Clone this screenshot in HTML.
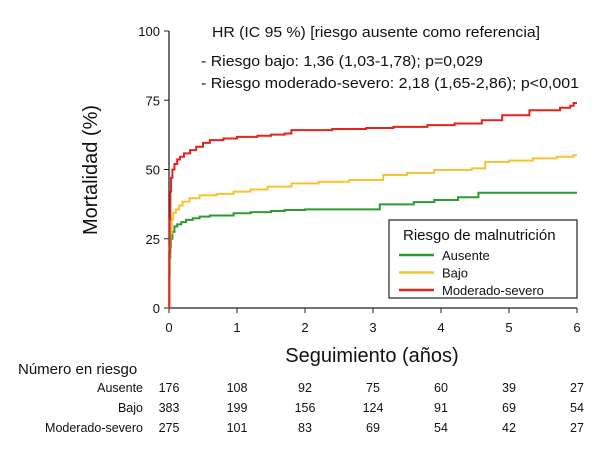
<!DOCTYPE html>
<html><head><meta charset="utf-8"><style>
body{margin:0;background:#fff;}
svg{display:block;font-family:"Liberation Sans",sans-serif;}
</style></head><body>
<svg width="613" height="451" id="chart">
<g id="axes"></g><g id="series"></g><g id="ann"></g>
</svg>
<script>
const xTicks=[0,1,2,3,4,5,6];
const yTicks=[0,25,50,75,100];
const groups=["Ausente","Bajo","Moderado-severo"];
const colors=["#2e9a34","#f4c431","#e4231c"];
const ausT=[0,0.005,0.01,0.02,0.03,0.05,0.08,0.12,0.18,0.25,0.35,0.45,0.6,0.95,1.2,1.5,1.7,2.0,3.1,3.6,3.9,4.25,4.55,6];
const ausV=[0,12,18,22,25,27.5,29.4,30.2,31,31.8,32.4,33,33.4,34.2,34.6,35,35.4,35.6,37.4,38.2,39,40,41.6,41.6];
const bajT=[0,0.005,0.01,0.02,0.04,0.06,0.1,0.15,0.2,0.3,0.45,0.7,0.95,1.2,1.45,1.8,2.2,2.65,3.15,3.5,3.9,4.45,4.65,5.0,5.35,5.7,5.95,6];
const bajV=[0,15,22,27,32,34.4,35.6,37,38.4,39.6,40.7,41.2,42,42.8,43.8,45,45.6,46.2,48,48.8,49.8,50.4,52.7,53.2,54,54.6,55.2,55.2];
const modT=[0,0.005,0.01,0.02,0.03,0.05,0.08,0.12,0.16,0.22,0.31,0.4,0.5,0.6,0.8,1.0,1.3,1.5,1.7,1.8,2.4,2.9,3.3,3.8,4.2,4.6,4.9,5.3,5.75,5.9,5.95,6];
const modV=[0,20,32,42,47,50,52,53.6,54.6,55.8,57,58.2,59.6,60.6,61.2,61.8,62.2,62.6,63,64.2,64.6,65,65.4,66,66.6,67.8,69.6,71.4,72.3,73,74,74];
const atRisk=[[176,108,92,75,60,39,27],[383,199,156,124,91,69,54],[275,101,83,69,54,42,27]];
const NS="http://www.w3.org/2000/svg";
const X=t=>169+t*(577-169)/6, Y=v=>308-v*(308-31)/100;
function mk(tag,attrs,parent,text){const e=document.createElementNS(NS,tag);for(const k in attrs)e.setAttribute(k,attrs[k]);if(text!==undefined)e.textContent=text;parent.appendChild(e);return e;}
const ax=document.getElementById('axes');
let a=mk('line',{x1:169,y1:31,x2:169,y2:308,stroke:'#222','stroke-width':1.3},ax);

a=mk('line',{x1:169,y1:308,x2:577,y2:308,stroke:'#222','stroke-width':1.3},ax);

yTicks.forEach(v=>{mk('line',{x1:164,y1:Y(v),x2:169,y2:Y(v),stroke:'#222'},ax);
 const t=mk('text',{x:160,y:Y(v)+5,'text-anchor':'end','font-size':13,fill:'#111'},ax,v);
 });
xTicks.forEach(v=>{mk('line',{x1:X(v),y1:308,x2:X(v),y2:313,stroke:'#222'},ax);
 const t=mk('text',{x:X(v),y:332,'text-anchor':'middle','font-size':13,fill:'#111'},ax,v);
 });
let tt=mk('text',{x:372,y:362,'text-anchor':'middle','font-size':20,fill:'#111'},ax,'Seguimiento (años)');

tt=mk('text',{x:97,y:170,'text-anchor':'middle','font-size':20,fill:'#111',transform:'rotate(-90 97 170)'},ax,'Mortalidad (%)');

const sg=document.getElementById('series');
[[ausT,ausV],[bajT,bajV],[modT,modV]].forEach((s,i)=>{let d='M'+X(s[0][0])+' '+Y(s[1][0]);
 for(let k=1;k<s[0].length;k++){d+=' H'+X(s[0][k])+' V'+Y(s[1][k]);}
 const p=mk('path',{d:d,fill:'none',stroke:colors[i],'stroke-width':2},sg);
 });
const an=document.getElementById('ann');
[['HR (IC 95 %) [riesgo ausente como referencia]',212,37,328],['- Riesgo bajo: 1,36 (1,03-1,78); p=0,029',201,66,282],['- Riesgo moderado-severo: 2,18 (1,65-2,86); p<0,001',201,88,378]].forEach((r,i)=>{
 const t=mk('text',{x:r[1],y:r[2],'font-size':15,fill:'#111',textLength:r[3],lengthAdjust:'spacingAndGlyphs'},an,r[0]);
 });
const lg=mk('g',{},an);
mk('rect',{x:389,y:220,width:188,height:78,fill:'#fff',stroke:'#333','stroke-width':1.3},lg);
mk('text',{x:403,y:240,'font-size':15,fill:'#111'},lg,'Riesgo de malnutrición');
groups.forEach((g,i)=>{const e=mk('g',{},lg);
 const y=255+i*17.5;mk('line',{x1:399,y1:y,x2:434,y2:y,stroke:colors[i],'stroke-width':2.5},e);
 mk('text',{x:442,y:y+5,'font-size':13,fill:'#111'},e,g);});
tt=mk('text',{x:18,y:374,'font-size':15,fill:'#111'},an,'Número en riesgo');

atRisk.forEach((row,i)=>{const y=392+i*20;
 const l=mk('text',{x:143,y:y,'text-anchor':'end','font-size':12.5,fill:'#111'},an,groups[i]);
 
 row.forEach((v,j)=>{const t=mk('text',{x:X(xTicks[j]),y:y,'text-anchor':'middle','font-size':12.5,fill:'#111'},an,v);
  });});
</script>
</body></html>
